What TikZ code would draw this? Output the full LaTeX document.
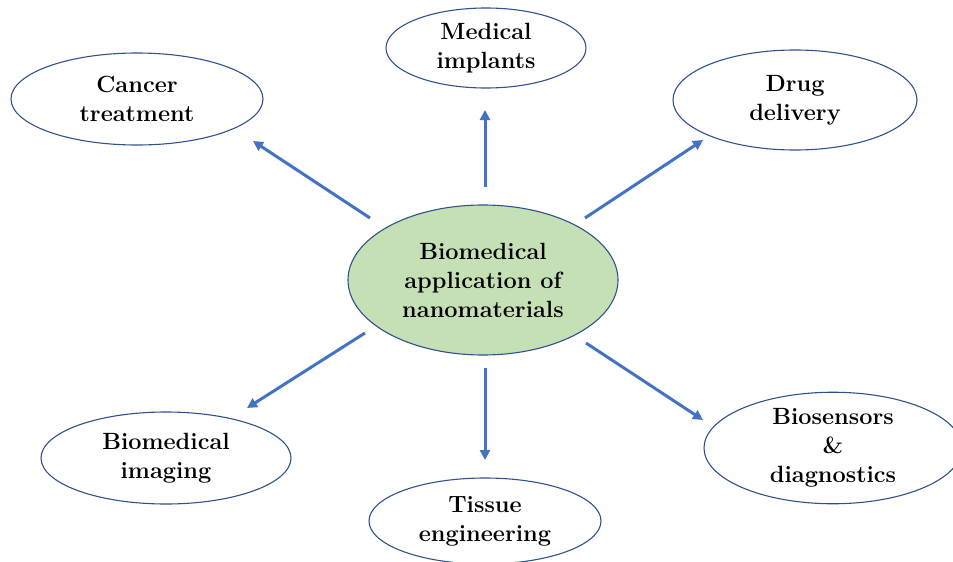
\documentclass[tikz,border=0pt]{standalone}
\usepackage{fontspec}
\usetikzlibrary{arrows.meta,shapes.geometric}
\definecolor{bord}{HTML}{2F528F}
\definecolor{arrc}{HTML}{4472C4}
\definecolor{greenf}{HTML}{C5E0B4}
\begin{document}
\begin{tikzpicture}[x=1pt,y=-1pt,
  ell/.style={ellipse,draw=bord,line width=1.1pt,inner sep=0pt,align=center,
     font=\fontsize{23.5}{29}\selectfont\bfseries},
  arr/.style={draw=arrc,line width=3pt,-{Triangle[length=10pt,width=10pt]}}]
\useasboundingbox (0,0) rectangle (953,562);
\node[ell,fill=greenf,minimum width=270pt,minimum height=150pt] (c) at (483,280) {Biomedical\\application of\\nanomaterials};
\node[ell,minimum width=252pt,minimum height=92pt] (ct) at (137,99) {Cancer\\treatment};
\node[ell,minimum width=200pt,minimum height=80pt] (mi) at (486,48) {Medical\\implants};
\node[ell,minimum width=244pt,minimum height=100pt] (dd) at (795,100) {Drug\\delivery};
\node[ell,minimum width=250pt,minimum height=92pt] (bi) at (166,458) {Biomedical\\imaging};
\node[ell,minimum width=232pt,minimum height=86pt] (te) at (485,521) {Tissue\\engineering};
\node[ell,minimum width=258pt,minimum height=107pt] (bs) at (833,448) {Biosensors\\\&\\diagnostics};
\coordinate (s1) at (370,218); \coordinate (e1) at (253,141);
\coordinate (s2) at (485,187); \coordinate (e2) at (485,110);
\coordinate (s3) at (585,218); \coordinate (e3) at (703,140);
\coordinate (s4) at (365,333); \coordinate (e4) at (247,408);
\coordinate (s5) at (485,368); \coordinate (e5) at (485,460);
\coordinate (s6) at (586,343); \coordinate (e6) at (703,420);
\draw[arr] (s1) -- (e1);
\draw[arr] (s2) -- (e2);
\draw[arr] (s3) -- (e3);
\draw[arr] (s4) -- (e4);
\draw[arr] (s5) -- (e5);
\draw[arr] (s6) -- (e6);
\end{tikzpicture}
\end{document}
